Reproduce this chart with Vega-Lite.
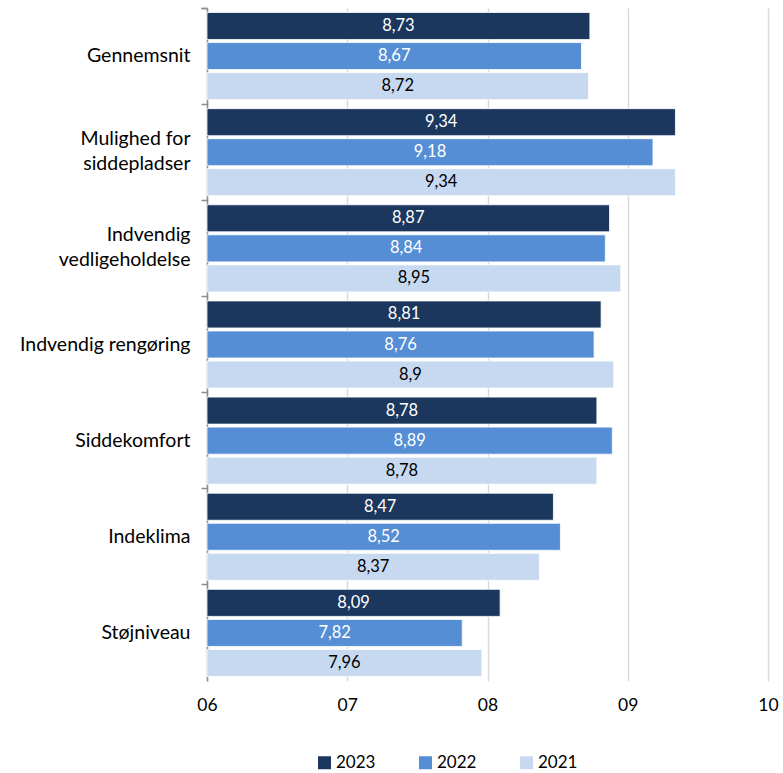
{
  "$schema": "https://vega.github.io/schema/vega-lite/v6.json",
  "width": 561,
  "height": 673,
  "autosize": {"type": "none"},
  "padding": {"left": 207, "top": 8, "right": 15, "bottom": 92},
  "background": "white",
  "config": {
    "font": "Lato",
    "view": {"stroke": null}
  },
  "data": {
    "values": [
      {"cat": "Gennemsnit", "year": "2023", "value": 8.73},
      {"cat": "Gennemsnit", "year": "2022", "value": 8.67},
      {"cat": "Gennemsnit", "year": "2021", "value": 8.72},
      {"cat": "Mulighed for siddepladser", "year": "2023", "value": 9.34},
      {"cat": "Mulighed for siddepladser", "year": "2022", "value": 9.18},
      {"cat": "Mulighed for siddepladser", "year": "2021", "value": 9.34},
      {"cat": "Indvendig vedligeholdelse", "year": "2023", "value": 8.87},
      {"cat": "Indvendig vedligeholdelse", "year": "2022", "value": 8.84},
      {"cat": "Indvendig vedligeholdelse", "year": "2021", "value": 8.95},
      {"cat": "Indvendig rengøring", "year": "2023", "value": 8.81},
      {"cat": "Indvendig rengøring", "year": "2022", "value": 8.76},
      {"cat": "Indvendig rengøring", "year": "2021", "value": 8.9},
      {"cat": "Siddekomfort", "year": "2023", "value": 8.78},
      {"cat": "Siddekomfort", "year": "2022", "value": 8.89},
      {"cat": "Siddekomfort", "year": "2021", "value": 8.78},
      {"cat": "Indeklima", "year": "2023", "value": 8.47},
      {"cat": "Indeklima", "year": "2022", "value": 8.52},
      {"cat": "Indeklima", "year": "2021", "value": 8.37},
      {"cat": "Støjniveau", "year": "2023", "value": 8.09},
      {"cat": "Støjniveau", "year": "2022", "value": 7.82},
      {"cat": "Støjniveau", "year": "2021", "value": 7.96}
    ]
  },
  "transform": [
    {"calculate": "(datum.value + 6) / 2", "as": "mid"},
    {"calculate": "replace(toString(datum.value), '.', ',')", "as": "label"}
  ],
  "encoding": {
    "y": {
      "field": "cat",
      "type": "nominal",
      "sort": null,
      "scale": {"paddingInner": 0, "paddingOuter": 0},
      "axis": {
        "title": null,
        "domainColor": "#8C8C8C",
        "domainWidth": 1.5,
        "tickColor": "#8C8C8C",
        "tickWidth": 1.5,
        "tickSize": 6,
        "bandPosition": 0,
        "tickExtra": true,
        "labelFontSize": 19.5,
        "labelColor": "#000000",
        "labelPadding": 11,
        "labelLineHeight": 25,
        "labelOffset": {"condition": {"test": "datum.value == 'Mulighed for siddepladser' || datum.value == 'Indvendig vedligeholdelse'", "value": -13}, "value": 0},
        "labelExpr": "datum.value == 'Mulighed for siddepladser' ? ['Mulighed for', 'siddepladser'] : datum.value == 'Indvendig vedligeholdelse' ? ['Indvendig', 'vedligeholdelse'] : datum.value"
      }
    },
    "yOffset": {
      "field": "year",
      "type": "nominal",
      "sort": ["2023", "2022", "2021"],
      "scale": {"paddingInner": 0.1, "paddingOuter": 0.15}
    }
  },
  "layer": [
    {
      "mark": {"type": "bar", "stroke": "white", "strokeWidth": 0.8},
      "encoding": {
        "x": {
          "field": "value",
          "type": "quantitative",
          "scale": {"domain": [6, 10], "zero": false, "nice": false},
          "axis": {
            "title": null,
            "values": [6, 7, 8, 9, 10],
            "domain": false,
            "ticks": false,
            "grid": true,
            "gridColor": "#D9D9D9",
            "gridWidth": 1.5,
            "labelFontSize": 17.5,
            "labelColor": "#000000",
            "labelPadding": 15,
            "labelFlush": false,
            "labelExpr": "datum.value < 10 ? '0' + datum.value : '' + datum.value"
          }
        },
        "x2": {"datum": 6},
        "color": {
          "field": "year",
          "type": "nominal",
          "sort": ["2023", "2022", "2021"],
          "scale": {"domain": ["2023", "2022", "2021"], "range": ["#1B375E", "#558ED5", "#C6D9F1"]},
          "legend": {
            "title": null,
            "orient": "none",
            "direction": "horizontal",
            "legendX": 109,
            "legendY": 746,
            "symbolType": "square",
            "symbolSize": 169,
            "symbolStrokeWidth": 0,
            "labelFontSize": 17,
            "labelColor": "#000000",
            "labelOffset": 3,
            "columnPadding": 41
          }
        }
      }
    },
    {
      "mark": {"type": "text", "fontSize": 16.5, "align": "center", "baseline": "middle"},
      "encoding": {
        "x": {"field": "mid", "type": "quantitative"},
        "text": {"field": "label"},
        "color": {
          "condition": {"test": "datum.year === '2021'", "value": "#000000"},
          "value": "#FFFFFF"
        }
      }
    }
  ]
}
